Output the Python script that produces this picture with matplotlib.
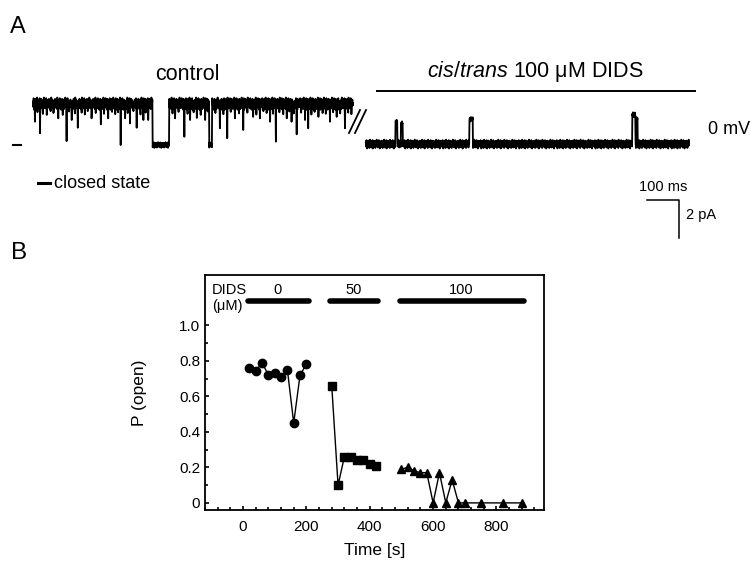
import numpy as np
import matplotlib

matplotlib.use("Agg")
import matplotlib.pyplot as plt
from matplotlib.ticker import MultipleLocator, FixedLocator

plt.rcParams["font.family"] = ["Liberation Sans", "DejaVu Sans"]
plt.rcParams["mathtext.fontset"] = "custom"
plt.rcParams["mathtext.it"] = "Liberation Sans:italic"
plt.rcParams["mathtext.rm"] = "Liberation Sans"

W, H = 750, 562

# ---------------- Panel A: single-channel records (ms, pA) ----------------
CTRL_START, CTRL_END = 0, 1000
DIDS_START, DIDS_END = 1040, 2050
OPEN_CTRL = 2.2
CLOSED = 0.0
DIDS_BASE = 0.05

# brief closing flickers in control: time (ms), current reached (pA)
ctrl_spike_t = [6, 22, 43, 79, 105, 121, 140, 183, 212, 235, 274, 288, 303, 324, 345, 360,
                444, 473, 491, 512, 538, 584, 607, 631, 657, 688, 709, 741, 759, 793, 808,
                824, 850, 860, 892, 928, 949, 975]
ctrl_spike_i = [1.24, 0.62, 1.60, 1.42, 0.21, 1.33, 0.92, 1.42, 1.10, 1.42, 0.00, 1.42, 1.15,
                0.92, 1.33, 1.33, 1.42, 0.44, 1.33, 1.44, 1.33, 0.89, 0.36, 1.42, 0.80, 1.50,
                1.42, 1.24, 0.18, 1.42, 1.24, 0.57, 1.33, 0.89, 1.50, 1.24, 1.50, 0.89]
# shallow flickers in control
ctrl_small_t = [14, 31, 55, 64, 93, 113, 131, 152, 162, 171, 196, 222, 247, 257, 266, 296,
                314, 336, 352, 436, 455, 483, 502, 524, 546, 570, 595, 618, 644, 670, 698,
                720, 730, 750, 770, 782, 801, 815, 838, 870, 880, 905, 915, 938, 960, 985, 995]
ctrl_small_i = [1.75, 1.65, 1.80, 1.70, 1.60, 1.78, 1.68, 1.72, 1.62, 1.80, 1.70, 1.66, 1.76,
                1.64, 1.74, 1.70, 1.80, 1.62, 1.72, 1.68, 1.76, 1.66, 1.74, 1.60, 1.78, 1.70,
                1.64, 1.76, 1.68, 1.72, 1.62, 1.80, 1.70, 1.66, 1.74, 1.64, 1.78, 1.68, 1.72,
                1.62, 1.76, 1.70, 1.66, 1.74, 1.68, 1.72, 1.64]
# longer closures in control: start, end (ms)
ctrl_close_t0 = [374, 551]
ctrl_close_t1 = [425, 559]

# brief openings with DIDS: start, end (ms), amplitude (pA)
dids_open_t0 = [1133, 1150, 1364, 1873, 1885]
dids_open_t1 = [1138, 1155, 1374, 1882, 1889]
dids_open_i = [1.25, 1.15, 1.38, 1.62, 1.35]

# baseline jitter (relative units)
noise_pattern = [0.3, -0.5, 0.8, -0.2, -0.9, 0.4, 0.1, -0.6, 0.7, -0.3, 0.5, -0.8, 0.2, 0.9,
                 -0.4, -0.1, 0.6, -0.7, 0.0, 0.4, -0.5, 0.8, -0.9, 0.3, 0.2, -0.2, 0.7, -0.6,
                 0.5, -0.1, -0.8, 0.6, 0.1, -0.4, 0.9, -0.3, 0.0, 0.5, -0.7, 0.3, -0.2, 0.8,
                 -0.5, 0.4, -0.9, 0.2, 0.6, -0.3, 0.1, -0.6, 0.7, -0.1, 0.4, -0.8, 0.5, 0.0,
                 -0.4, 0.9, -0.2, 0.3, -0.7, 0.6, -0.5, 0.2, 0.8, -0.9, 0.1, 0.4, -0.3, 0.7,
                 -0.6, 0.0, 0.5, -0.2, 0.3, -0.8, 0.9, -0.4, 0.2, -0.1, 0.6, -0.5, 0.3, -0.7,
                 0.8, 0.1, -0.3, 0.4, -0.9, 0.5, -0.2, 0.7, -0.6, 0.2, 0.0, -0.4, 0.6, -0.8,
                 0.3, 0.1, -0.5, 0.9, -0.1, 0.4, -0.7, 0.2, 0.5, -0.3, 0.8, -0.6, 0.0, 0.3,
                 -0.9, 0.7, -0.2, 0.1, -0.4, 0.6, -0.5]

# ---------------- Panel B: open probability ----------------
circ_t = [20, 40, 60, 80, 100, 120, 140, 160, 180, 200]
circ_p = [0.76, 0.74, 0.79, 0.72, 0.73, 0.71, 0.75, 0.45, 0.72, 0.78]
sq_t = [280, 300, 320, 340, 360, 380, 400, 420]
sq_p = [0.66, 0.10, 0.26, 0.26, 0.24, 0.24, 0.22, 0.21]
tri_t = [500, 520, 540, 560, 580, 600, 620, 640, 660, 680, 700, 750, 820, 880]
tri_p = [0.19, 0.20, 0.18, 0.17, 0.17, 0.0, 0.17, 0.0, 0.13, 0.0, 0.0, 0.0, 0.0, 0.0]

bar_start = [15, 275, 495]
bar_end = [207, 427, 886]
bar_label = ["0", "50", "100"]
x_ticks = [0, 200, 400, 600, 800]
y_ticks = [0, 0.2, 0.4, 0.6, 0.8, 1.0]
y_tick_labels = ["0", "0.2", "0.4", "0.6", "0.8", "1.0"]


def build_trace(t0, t1, base, amp):
    t = np.arange(t0, t1 + 1, 1.0)
    jitter = np.resize(np.array(noise_pattern), len(t))
    return t, base + amp * jitter, jitter


fig = plt.figure(figsize=(W / 100, H / 100), dpi=100)

# overlay in pixel coordinates for labels and decorations
ov = fig.add_axes([0, 0, 1, 1])
ov.set_xlim(0, W)
ov.set_ylim(H, 0)
ov.axis("off")

axA = fig.add_axes([0, 1 - 262 / H, 1, 262 / H])
axA.set_xlim(-103.1, 2240.6)
axA.set_ylim(-6.22, 7.71)
axA.axis("off")

# control trace
t_c, i_c, jit_c = build_trace(CTRL_START, CTRL_END, OPEN_CTRL, 0.36)
for a, b in zip(ctrl_close_t0, ctrl_close_t1):
    m = (t_c >= a) & (t_c <= b)
    i_c[m] = CLOSED + 0.17 * jit_c[m]
for t, v in zip(ctrl_small_t, ctrl_small_i):
    i_c[int(round(t - CTRL_START))] = v
for t, v in zip(ctrl_spike_t, ctrl_spike_i):
    i_c[int(round(t - CTRL_START))] = v
axA.plot(t_c, i_c, color="black", lw=1.3)

# DIDS trace
t_d, i_d, jit_d = build_trace(DIDS_START, DIDS_END, DIDS_BASE, 0.26)
for a, b, v in zip(dids_open_t0, dids_open_t1, dids_open_i):
    m = (t_d >= a) & (t_d <= b)
    i_d[m] = v + 0.15 * jit_d[m]
axA.plot(t_d, i_d, color="black", lw=1.3)

# closed level marker
axA.plot([-62, -36], [CLOSED, CLOSED], color="black", lw=1.5)

# scale bar: 100 ms, 2 pA
sb_t, sb_i = 1919, -2.93
axA.plot([sb_t, sb_t + 100, sb_t + 100], [sb_i, sb_i, sb_i - 2], color="black", lw=1.1)
axA.text(sb_t + 50, sb_i + 0.35, "100 ms", ha="center", va="bottom", fontsize=10.5)
axA.text(sb_t + 122, sb_i - 0.8, "2 pA", ha="left", va="center", fontsize=10.5)

# labels / decorations for panel A
ov.text(10, 27, "A", fontsize=17, ha="left", va="center")
ov.text(187, 74, "control", fontsize=15.5, ha="center", va="center")
ov.text(535, 71, r"$\it{cis/trans}$ 100 μM DIDS", fontsize=15.5, ha="center", va="center")
ov.plot([377, 695], [91, 91], color="black", lw=1.4)
ov.plot([349, 360], [133, 110], color="black", lw=1.3)
ov.plot([355, 366], [133, 110], color="black", lw=1.3)
ov.text(708, 129, "0 mV", fontsize=13, ha="left", va="center")
ov.plot([38, 50], [183, 183], color="black", lw=2.2)
ov.text(54, 183, "closed state", fontsize=13, ha="left", va="center")
ov.text(11, 253, "B", fontsize=17.5, ha="left", va="center")

# ---------------- Panel B ----------------
axB = fig.add_axes([205 / W, 1 - 510 / H, 339 / W, 235 / H])
axB.plot(circ_t, circ_p, color="black", lw=1.0, marker="o", ms=6)
axB.plot(sq_t, sq_p, color="black", lw=1.0, marker="s", ms=5.5)
axB.plot(tri_t, tri_p, color="black", lw=1.0, marker="^", ms=6)

for a, b, lab in zip(bar_start, bar_end, bar_label):
    axB.plot([a, b], [1.136, 1.136], color="black", lw=4, solid_capstyle="round")
    axB.text((a + b) / 2 - 3, 1.2, lab, ha="center", va="center", fontsize=10.5)
axB.text(-98, 1.2, "DIDS", ha="left", va="center", fontsize=10.5)
axB.text(-98, 1.11, "(μM)", ha="left", va="center", fontsize=10.5)

axB.set_xlim(-120, 950)
axB.set_ylim(-0.04, 1.283)
axB.xaxis.set_major_locator(FixedLocator(x_ticks))
axB.xaxis.set_minor_locator(MultipleLocator(40))
axB.yaxis.set_major_locator(FixedLocator(y_ticks))
axB.yaxis.set_minor_locator(FixedLocator([0.1, 0.3, 0.5, 0.7, 0.9]))
axB.set_yticklabels(y_tick_labels)
axB.tick_params(which="both", direction="in", top=False, right=False, labelsize=11, width=1.2)
axB.tick_params(axis="x", which="both", pad=7)
axB.tick_params(which="major", length=3)
axB.tick_params(which="minor", length=2.5)
for sp in axB.spines.values():
    sp.set_linewidth(1.3)
axB.set_xlabel("Time [s]", fontsize=12.5)
axB.set_ylabel("P (open)", fontsize=12.5)
axB.xaxis.set_label_coords(0.5, -0.14)
axB.yaxis.set_label_coords(-0.17, 0.5)

fig.savefig("out.png", dpi=100)
